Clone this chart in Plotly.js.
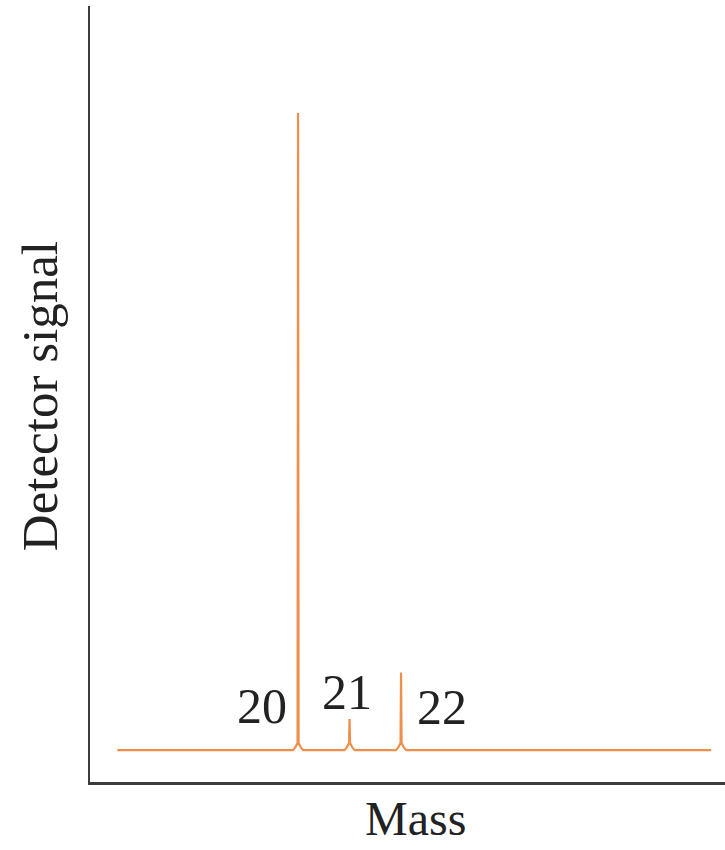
<!DOCTYPE html>
<html>
<head>
<meta charset="utf-8">
<script src="https://cdn.plot.ly/plotly-3.0.1.min.js"></script>
<style>html,body{margin:0;padding:0;background:#fff;}#chart{width:725px;height:850px;}</style>
</head>
<body>
<div id="chart"></div>
<script>
// Mass spectrum of neon (relative detector signal, tallest peak = 100)
const peakMasses = [20, 21, 22];
const peakLabels = ["20", "21", "22"];
const peakHeights = [100, 4.9, 12.2];

// Trace (mass, signal), including the small rounded foot at each peak base
const mass = [16.49,
  19.90, 19.94, 19.97, 19.99, 20.00, 20.01, 20.03, 20.06, 20.10,
  20.90, 20.94, 20.97, 20.99, 21.00, 21.01, 21.03, 21.06, 21.10,
  21.90, 21.94, 21.97, 21.99, 22.00, 22.01, 22.03, 22.06, 22.10,
  28.02];
const signal = [0,
  0, 0.35, 0.8, 1.1, 100, 1.1, 0.8, 0.35, 0,
  0, 0.35, 0.8, 1.1, 4.9, 1.1, 0.8, 0.35, 0,
  0, 0.35, 0.8, 1.1, 12.2, 1.1, 0.8, 0.35, 0,
  0];

// label anchor points (data coords)
const labelMass = [19.30, 20.95, 22.80];
const labelSignal = [6.9, 9.1, 6.75];

const serif = "Liberation Serif, Times New Roman, serif";
const annotations = peakLabels.map((t, i) => ({
  x: labelMass[i], y: labelSignal[i], xref: "x", yref: "y",
  text: t, showarrow: false, xanchor: "center", yanchor: "middle",
  font: {family: serif, size: 50, color: "#222"}
}));
annotations.push({
  xref: "paper", yref: "paper", x: 0.512, y: 0, yshift: -36, text: "Mass",
  showarrow: false, xanchor: "center", yanchor: "middle", borderpad: 0,
  font: {family: serif, size: 48, color: "#222"}
});
annotations.push({
  xref: "paper", yref: "paper", x: -0.079, y: 0.497, text: "Detector signal",
  textangle: -90, showarrow: false, xanchor: "center", yanchor: "middle",
  font: {family: serif, size: 51, color: "#222"}
});

Plotly.newPlot("chart", [{
  x: mass, y: signal, type: "scatter", mode: "lines",
  line: {color: "#EE8F4B", width: 2.2, shape: "linear"},
  hoverinfo: "skip"
}], {
  width: 725, height: 850,
  margin: {l: 90, r: 0, t: 6, b: 68},
  paper_bgcolor: "#fff", plot_bgcolor: "#fff",
  showlegend: false,
  xaxis: {range: [15.96, 28.29], showline: true, linecolor: "#3c3c3c", linewidth: 2.5,
          showgrid: false, zeroline: false, showticklabels: false, ticks: ""},
  yaxis: {range: [-5.0, 116.8], showline: true, linecolor: "#3c3c3c", linewidth: 2.5,
          showgrid: false, zeroline: false, showticklabels: false, ticks: ""},
  annotations: annotations
}, {displayModeBar: false, staticPlot: true});
</script>
</body>
</html>
